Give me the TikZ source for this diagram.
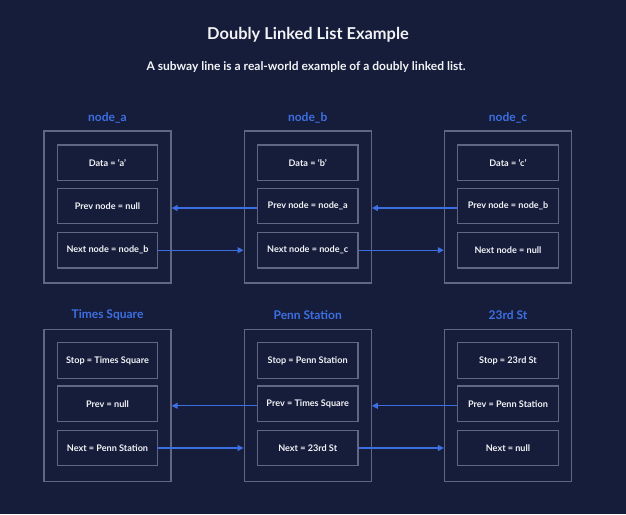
\documentclass[tikz,border=0pt]{standalone}
\usepackage{fontspec}
\setmainfont{Lato}
\usetikzlibrary{arrows.meta}
\definecolor{bg}{HTML}{161D3A}
\definecolor{edge}{HTML}{5F6784}
\definecolor{accent}{HTML}{3D6FE3}
\definecolor{txt}{HTML}{F2F3F7}
\tikzset{
  outerbox/.style={draw=edge, line width=1.3pt, minimum width=127pt, minimum height=152pt, inner sep=0pt},
  cell/.style={draw=edge, line width=1.3pt, minimum width=100.5pt, minimum height=35.5pt, inner sep=0pt,
    text=txt, font=\fontsize{9.1}{11}\selectfont\bfseries},
  heading/.style={text=accent, font=\fontsize{12}{14}\selectfont\bfseries},
  link/.style={draw=accent, line width=1.1pt, -{Triangle[length=6pt,width=6pt]}},
}
\begin{document}
\begin{tikzpicture}[x=1pt,y=-1pt]
\fill[bg] (0,0) rectangle (626,514);
\useasboundingbox (0,0) rectangle (626,514);
\node[text=txt, font=\fontsize{16.4}{18}\selectfont\bfseries] (title) at (308,35) {Doubly Linked List Example};
\node[text=txt, font=\fontsize{12}{14}\selectfont\bfseries] (sub) at (306,67) {A subway line is a real-world example of a doubly linked list.};
% top row
\node[heading] (ha) at (107.5,117.5) {node\_a};
\node[heading] (hb) at (307.7,117.5) {node\_b};
\node[heading] (hc) at (508,117.5) {node\_c};
\node[outerbox] (ao) at (107.5,207) {};
\node[outerbox] (bo) at (307.7,207) {};
\node[outerbox] (co) at (508,207) {};
\node[cell] (a1) at (107.5,162.7) {Data = ‘a’};
\node[cell] (a2) at (107.5,206) {Prev node = null};
\node[cell] (a3) at (107.5,250.2) {Next node = node\_b};
\node[cell] (b1) at (307.7,162.7) {Data = ‘b’};
\node[cell] (b2) at (307.7,206) {Prev node = node\_a};
\node[cell] (b3) at (307.7,250.2) {Next node = node\_c};
\node[cell] (c1) at (508,162.7) {Data = ‘c’};
\node[cell] (c2) at (508,206) {Prev node = node\_b};
\node[cell] (c3) at (508,250.2) {Next node = null};
\draw[link] ([yshift=-2pt]b2.west) -- ([yshift=-2pt]ao.east |- b2.west);
\draw[link] ([yshift=-2pt]c2.west) -- ([yshift=-2pt]bo.east |- c2.west);
\draw[link] (a3.east) -- (bo.west |- a3.east);
\draw[link] (b3.east) -- (co.west |- b3.east);
% bottom row
\node[heading] (hd) at (107.5,315.3) {Times Square};
\node[heading] (he) at (307.7,315.3) {Penn Station};
\node[heading] (hf) at (508,315.3) {23rd St};
\node[outerbox] (do) at (107.5,405.2) {};
\node[outerbox] (eo) at (307.7,405.2) {};
\node[outerbox] (fo) at (508,405.2) {};
\node[cell] (d1) at (107.5,360.5) {Stop = Times Square};
\node[cell] (d2) at (107.5,403.8) {Prev = null};
\node[cell] (d3) at (107.5,448) {Next = Penn Station};
\node[cell] (e1) at (307.7,360.5) {Stop = Penn Station};
\node[cell] (e2) at (307.7,403.8) {Prev = Times Square};
\node[cell] (e3) at (307.7,448) {Next = 23rd St};
\node[cell] (f1) at (508,360.5) {Stop = 23rd St};
\node[cell] (f2) at (508,403.8) {Prev = Penn Station};
\node[cell] (f3) at (508,448) {Next = null};
\draw[link] ([yshift=-2pt]e2.west) -- ([yshift=-2pt]do.east |- e2.west);
\draw[link] ([yshift=-2pt]f2.west) -- ([yshift=-2pt]eo.east |- f2.west);
\draw[link] (d3.east) -- (eo.west |- d3.east);
\draw[link] (e3.east) -- (fo.west |- e3.east);
\end{tikzpicture}
\end{document}
